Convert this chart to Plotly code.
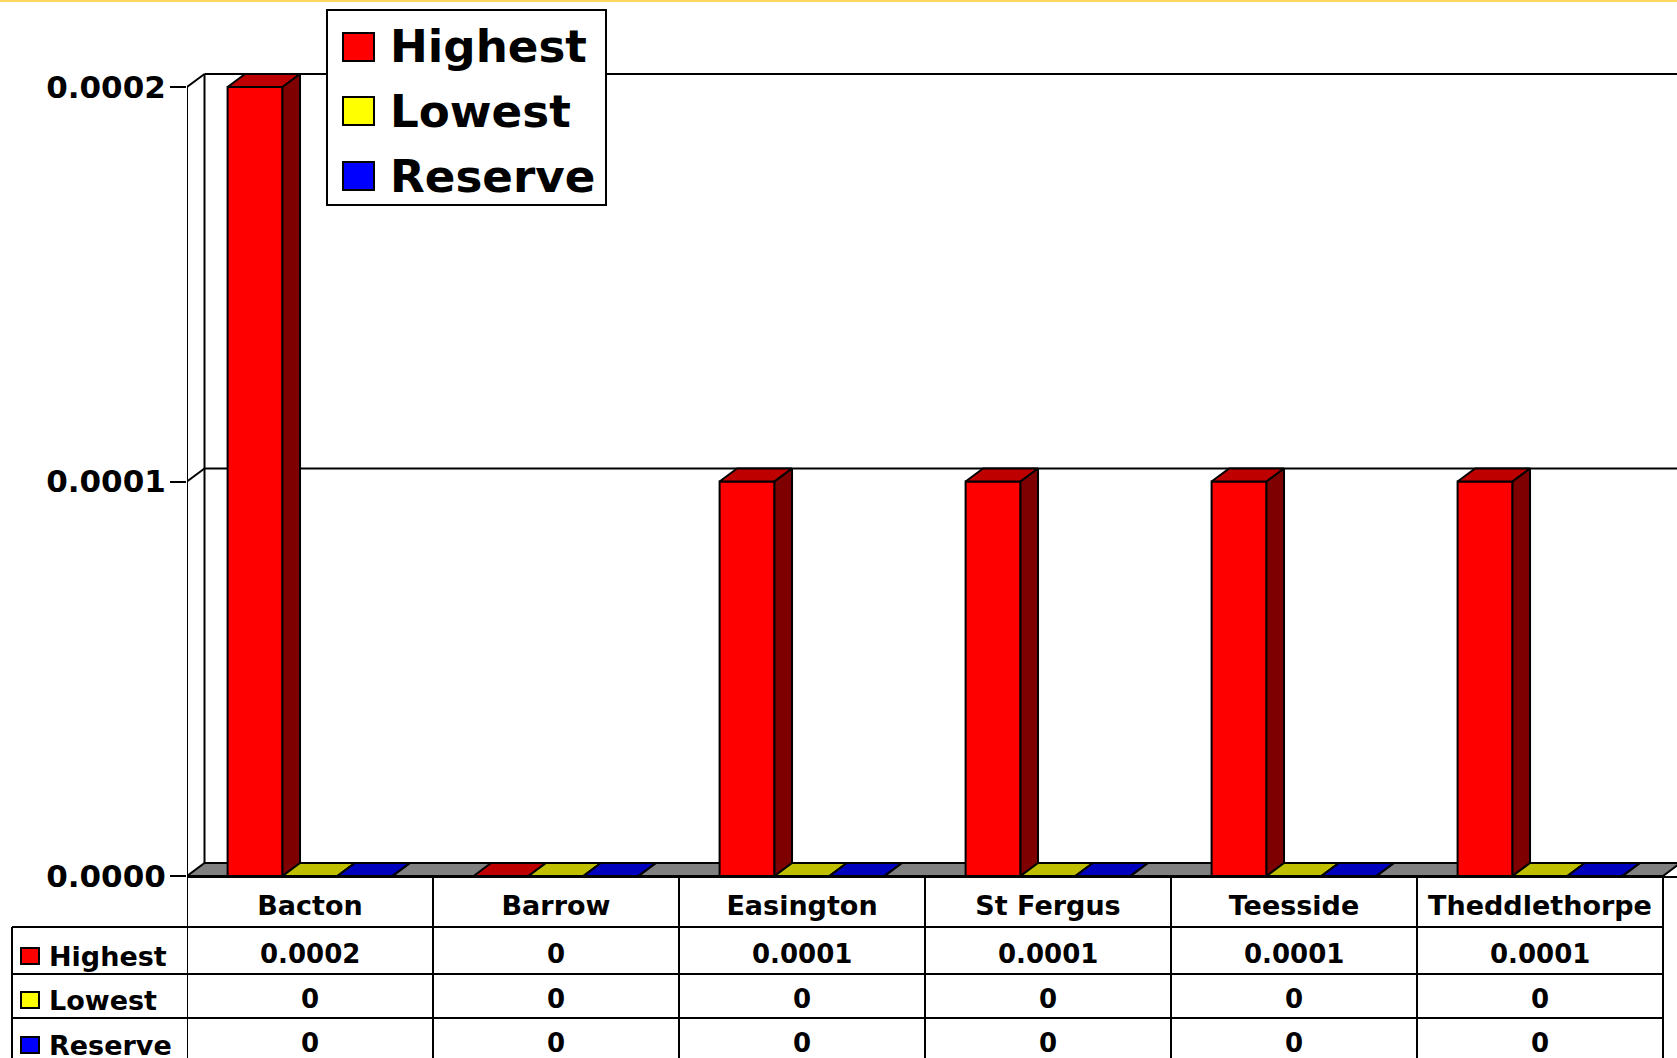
import plotly.graph_objects as go

categories = ["Bacton", "Barrow", "Easington", "St Fergus", "Teesside", "Theddlethorpe"]
series_names = ["Highest", "Lowest", "Reserve"]
highest = [0.0002, 0, 0.0001, 0.0001, 0.0001, 0.0001]
lowest = [0, 0, 0, 0, 0, 0]
reserve = [0, 0, 0, 0, 0, 0]
y_ticks = [0, 0.0001, 0.0002]

series_values = [highest, lowest, reserve]
front_colors = ["#FF0000", "#FFFF00", "#0000FF"]
top_colors = ["#BF0000", "#BFBF00", "#0000BF"]
side_colors = ["#7F0000", "#7F7F00", "#00007F"]

W, H = 1677, 1058
FONT = "DejaVu Sans"
LINE_W = 2
AXIS_LEFT, AXIS_RIGHT = 187, 1663
ZERO_Y, TOP_Y = 876, 87
CAT_PX = (AXIS_RIGHT - AXIS_LEFT) / len(categories)
VAL_PX = (ZERO_Y - TOP_Y) / max(y_ticks)
BAR_GAP = 0.33
BAR_W = (1 - BAR_GAP) / len(series_names)
# 3d depth of the chart, in axis units
DX = 17.5 / CAT_PX
DY = 13 / VAL_PX

x_pos = list(range(len(categories)))
x_lo, x_hi = -0.5, len(categories) - 0.5


def px(x):
    return x / W


def py(y):
    return 1 - y / H


def line_shape(x0, y0, x1, y1, xref="paper", yref="paper", layer="above"):
    return dict(type="line", x0=x0, y0=y0, x1=x1, y1=y1, xref=xref, yref=yref,
                layer=layer, line=dict(color="black", width=LINE_W))


def rect_shape(x0, y0, x1, y1, color):
    return dict(type="rect", x0=px(x0), y0=py(y0), x1=px(x1), y1=py(y1), xref="paper", yref="paper",
                layer="above", fillcolor=color, line=dict(color="black", width=LINE_W))


def text_note(x, y, text, size, anchor="center"):
    return dict(x=px(x), y=py(y), xref="paper", yref="paper", text=text, showarrow=False, xanchor=anchor,
                yanchor="middle", font=dict(family=FONT, size=size, color="black", weight="bold"))


def polygons(faces, color):
    xs, ys = [], []
    for face in faces:
        xs += [p[0] for p in face] + [face[0][0], None]
        ys += [p[1] for p in face] + [face[0][1], None]
    return go.Scatter(x=xs, y=ys, mode="lines", fill="toself", fillcolor=color,
                      line=dict(color="black", width=LINE_W), showlegend=False, hoverinfo="skip")


fig = go.Figure()
for s, name in enumerate(series_names):
    fig.add_trace(go.Bar(x=x_pos, y=series_values[s], name=name, showlegend=False,
                         marker=dict(color=front_colors[s], line=dict(color="black", width=LINE_W))))

for s, values in enumerate(series_values):
    tops, sides = [], []
    for c, v in zip(x_pos, values):
        left = c + (s - len(series_names) / 2) * BAR_W
        right = left + BAR_W
        tops.append([(left, v), (right, v), (right + DX, v + DY), (left + DX, v + DY)])
        sides.append([(right, 0), (right + DX, DY), (right + DX, v + DY), (right, v)])
    fig.add_trace(polygons(tops, top_colors[s]))
    fig.add_trace(polygons(sides, side_colors[s]))

# back wall, floor and grid
shapes = [dict(type="path", xref="x", yref="y", layer="below", fillcolor="#808080",
               line=dict(color="black", width=LINE_W),
               path=f"M{x_lo},0 L{x_hi},0 L{x_hi + DX},{DY} L{x_lo + DX},{DY} Z"),
          line_shape(x_lo + DX, DY, x_lo + DX, max(y_ticks) + DY, "x", "y", "below"),
          line_shape(x_lo, 0, x_lo, max(y_ticks), "x", "y")]
for t in y_ticks[1:]:
    shapes.append(line_shape(x_lo, t, x_lo + DX, t + DY, "x", "y", "below"))
    shapes.append(line_shape(x_lo + DX, t + DY, x_hi + DX, t + DY, "x", "y", "below"))

# data table
ROW_LINES = [927, 974, 1018]
ROW_TEXT_Y = [954, 999, 1043]
ROW_LABEL_Y = [956, 1000, 1045]
TABLE_LEFT = 12
for y in ROW_LINES:
    shapes.append(line_shape(px(TABLE_LEFT), py(y), px(AXIS_RIGHT), py(y)))
shapes.append(line_shape(px(TABLE_LEFT), py(ROW_LINES[0]), px(TABLE_LEFT), 0))
for c in range(len(categories) + 1):
    shapes.append(line_shape(c - 0.5, py(ZERO_Y), c - 0.5, 0, "x", "paper"))

annotations = []
for s, name in enumerate(series_names):
    shapes.append(rect_shape(21, ROW_LABEL_Y[s] - 8, 39, ROW_LABEL_Y[s] + 8, front_colors[s]))
    annotations.append(text_note(47, ROW_LABEL_Y[s], name, 27, "left"))
    for c, v in zip(x_pos, series_values[s]):
        annotations.append(dict(x=c, y=py(ROW_TEXT_Y[s]), xref="x", yref="paper", text=f"{v:g}", showarrow=False,
                                yanchor="middle", font=dict(family=FONT, size=26, color="black", weight="bold")))

# legend box sits over the back grid line
shapes.append(rect_shape(327, 10, 606, 205, "white"))
LEGEND_Y = [47, 111, 176]
for s, name in enumerate(series_names):
    shapes.append(rect_shape(343, LEGEND_Y[s] - 14, 374, LEGEND_Y[s] + 14, front_colors[s]))
    annotations.append(text_note(388, LEGEND_Y[s], name, 45.2, "left"))

# yellow strip along the top of the page
shapes.append(dict(type="rect", x0=0, x1=1, y0=py(2), y1=1, xref="paper", yref="paper", layer="above",
                   fillcolor="#FFD75E", line=dict(width=0)))

fig.update_layout(
    width=W, height=H, margin=dict(l=0, r=0, t=0, b=0), autosize=False,
    paper_bgcolor="white", plot_bgcolor="white",
    barmode="group", bargap=BAR_GAP, bargroupgap=0,
    shapes=shapes, annotations=annotations, showlegend=False,
    xaxis=dict(domain=[px(AXIS_LEFT), 1], range=[x_lo, x_hi + (W - AXIS_RIGHT) / CAT_PX], automargin=False,
               tickmode="array", tickvals=x_pos, ticktext=categories, ticks="", showgrid=False, zeroline=False,
               showline=True, linecolor="black", linewidth=LINE_W, ticklabelstandoff=5,
               tickfont=dict(family=FONT, size=27, color="black", weight="bold")),
    yaxis=dict(domain=[py(ZERO_Y), 1], range=[0, ZERO_Y / VAL_PX], automargin=False,
               tickmode="array", tickvals=y_ticks, tickformat=".4f", ticks="outside", ticklen=16, tickwidth=LINE_W,
               tickcolor="black", showgrid=False, zeroline=False, showline=False, ticklabelstandoff=-2,
               tickfont=dict(family=FONT, size=31, color="black", weight="bold")),
)

# the browser's default body margin would push the page 8px in
fig.write_html("out.html", config={"displayModeBar": False}, post_script="document.body.style.margin = '0';")
